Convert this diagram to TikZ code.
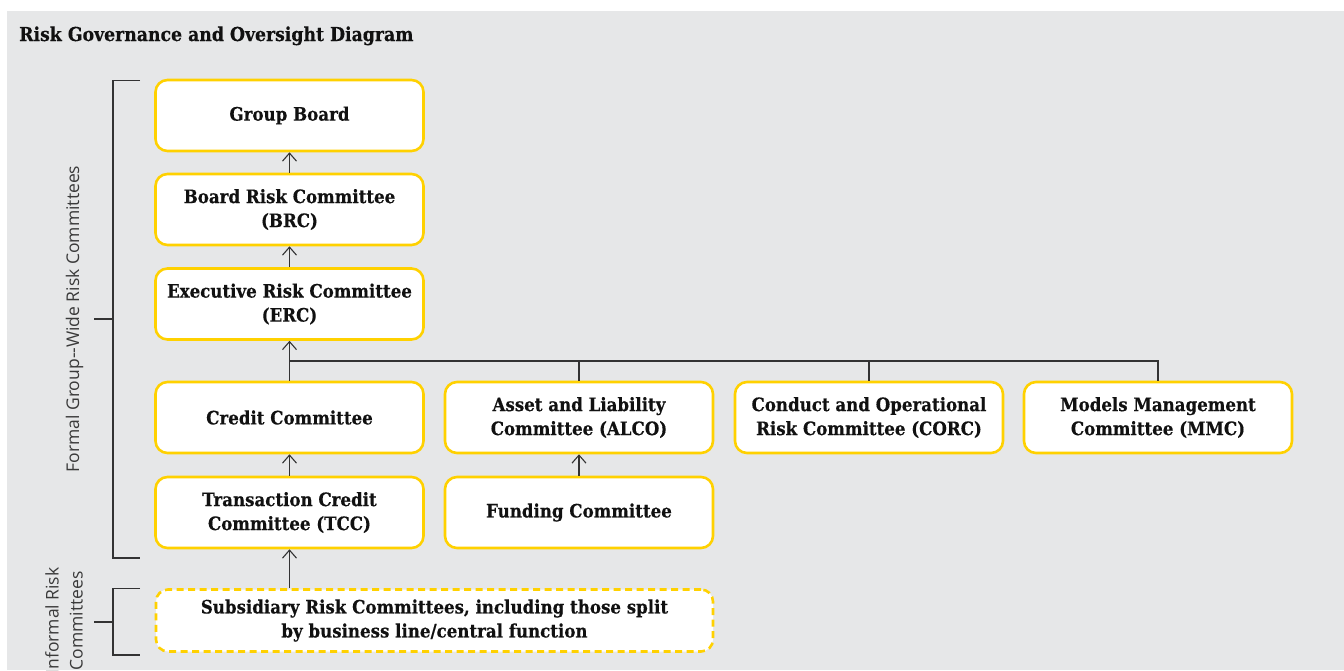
\documentclass[tikz,border=0pt]{standalone}
\usepackage{fontspec}
\usetikzlibrary{arrows.meta}
\newfontfamily\slab{DejaVu Serif}[FakeStretch=0.9, BoldFeatures={FakeBold=0.4}]
\newfontfamily\lsans{Open Sans}
\definecolor{bg}{HTML}{E6E7E8}
\definecolor{yel}{HTML}{FFD100}
\definecolor{ln}{HTML}{333333}
\definecolor{txt}{HTML}{111111}
\definecolor{labc}{HTML}{3A3A3A}
\begin{document}
\begin{tikzpicture}[x=1pt,y=-1pt,
  box/.style={draw=yel, line width=2.6pt, fill=white, rounded corners=12pt,
    minimum width=268pt, minimum height=71pt, align=center, inner sep=0pt,
    font=\slab\bfseries\fontsize{18.5}{24}\selectfont, text=txt},
  dbox/.style={box, dash pattern=on 7pt off 4.5pt},
  conn/.style={draw=ln, line width=1.1pt},
  arr/.style={conn, -{Straight Barb[length=8pt,width=14pt]}},
  brk/.style={draw=ln, line width=1.1pt},
  lab/.style={font=\lsans\fontsize{17.5}{24}\selectfont, text=labc, rotate=90, align=center, inner sep=0pt}]
\useasboundingbox (0,0) rectangle (1344,670);
\clip (0,0) rectangle (1344,670);
\fill[white] (0,0) rectangle (1344,670);
\fill[bg] (7,11) rectangle (1344,670);

\node[anchor=base west, inner sep=0pt, text=txt, font=\slab\bfseries\fontsize{19.2}{22}\selectfont] (title) at (19,41) {Risk Governance and Oversight Diagram};

\node[box] (gb) at (289.5,115.5) {Group Board};
\node[box] (brc) at (289.5,209.5) {Board Risk Committee\\(BRC)};
\node[box] (erc) at (289.5,304) {Executive Risk Committee\\(ERC)};
\node[box] (cc) at (289.5,417.5) {Credit Committee};
\node[box] (alco) at (579,417.5) {Asset and Liability\\Committee (ALCO)};
\node[box] (corc) at (869,417.5) {Conduct and Operational\\Risk Committee (CORC)};
\node[box] (mmc) at (1158,417.5) {Models Management\\Committee (MMC)};
\node[box] (tcc) at (289.5,512.5) {Transaction Credit\\Committee (TCC)};
\node[box] (fc) at (579,512.5) {Funding Committee};
\node[dbox, minimum width=557pt, minimum height=62pt] (sub) at (434.5,620.5) {Subsidiary Risk Committees, including those split\\by business line/central function};

\draw[arr] (brc.north) -- (gb.south);
\draw[arr] (erc.north) -- (brc.south);
\draw[arr] (cc.north) -- (erc.south);
\coordinate (bus) at (289.5,361);
\draw[conn] (mmc.north) |- (bus);
\draw[conn] (alco.north) -- (alco.north |- bus);
\draw[conn] (corc.north) -- (corc.north |- bus);
\draw[arr] (tcc.north) -- (cc.south);
\draw[arr] (fc.north) -- (alco.south);
\draw[arr] (sub.north -| tcc.north) -- (tcc.south);

% brackets
\coordinate (fA) at (140,80.5);
\coordinate (fB) at (140,558);
\coordinate (fM) at (94,319);
\draw[brk] (fA) -| (113,558) -- (fB);
\draw[brk] (fM) -- (113,319);
\coordinate (iA) at (140,588.5);
\coordinate (iB) at (140,655);
\coordinate (iM) at (94,622);
\draw[brk] (iA) -| (113,655) -- (iB);
\draw[brk] (iM) -- (113,622);

\node[lab] (flab) at (74.5,319) {Formal Group--Wide Risk Committees};
\node[lab] (ilab) at (64,621) {Informal Risk\\Committees};
\end{tikzpicture}
\end{document}
